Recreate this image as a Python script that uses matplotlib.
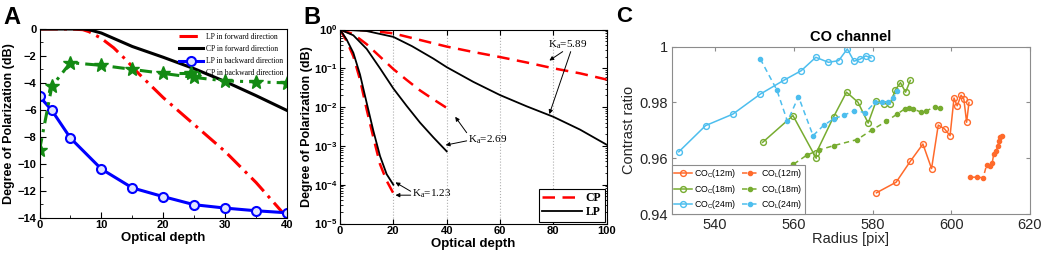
import numpy as np
import matplotlib
matplotlib.use("Agg")
import matplotlib.pyplot as plt
from matplotlib.ticker import MultipleLocator, LogLocator, NullFormatter

# ---------------- Panel A data ----------------
a_lpf_x = [0, 5, 7, 8, 10, 12, 14, 16, 20, 25, 30, 35, 40]
a_lpf_y = [0, 0, -0.05, -0.2, -0.7, -1.4, -2.3, -3.3, -5.1, -7.1, -9.1, -11.4, -14.0]
a_cpf_x = [0, 5, 7, 8, 10, 12, 15, 20, 25, 30, 35, 40]
a_cpf_y = [0, 0, 0, -0.05, -0.3, -0.7, -1.3, -2.1, -2.95, -3.9, -4.95, -6.05]
a_back_x = [0, 2, 5, 10, 15, 20, 25, 30, 35, 40]
a_lpb_y = [-5.0, -6.05, -8.1, -10.4, -11.8, -12.45, -13.05, -13.3, -13.5, -13.65]
a_cpb_y = [-9.0, -4.25, -2.5, -2.7, -3.0, -3.3, -3.6, -3.85, -3.93, -4.0]
a_labels = ["LP in forward direction", "CP in forward direction",
            "LP in backward direction", "CP in backward direction"]

# ---------------- Panel B data (log10 of DOP) ----------------
b_x123 = [0, 2.5, 5, 7.5, 10, 12.5, 15, 17.5, 20]
b_lp123 = [0, -0.26, -0.6, -1.16, -1.89, -2.61, -3.26, -3.73, -4.0]
b_cp123 = [0, -0.3, -0.69, -1.29, -2.06, -2.78, -3.47, -3.9, -4.22]
b_x269 = [0, 5, 10, 15, 20, 25, 30, 35, 40]
b_lp269 = [0, -0.15, -0.5, -1.0, -1.52, -1.97, -2.4, -2.78, -3.14]
b_cp269 = [0, -0.12, -0.38, -0.7, -1.02, -1.3, -1.57, -1.8, -2.02]
b_x589lp = [0, 10, 20, 27, 35, 40, 50, 60, 70, 80, 90, 100]
b_lp589 = [0, -0.04, -0.19, -0.43, -0.75, -0.97, -1.35, -1.69, -1.98, -2.25, -2.58, -2.97]
b_x589cp = [0, 10, 20, 30, 40, 50, 60, 70, 80, 90, 100]
b_cp589 = [0, -0.02, -0.1, -0.27, -0.44, -0.58, -0.71, -0.85, -1.0, -1.13, -1.29]

# ---------------- Panel C data ----------------
c24_x = [530.8, 537.6, 544.5, 551.5, 557.4, 561.9, 565.6, 568.8, 571.4, 573.6, 575.3, 576.8, 578.3, 579.6]
c24_y = [0.9623, 0.9717, 0.9758, 0.983, 0.9879, 0.9914, 0.9962, 0.9944, 0.995, 0.9992, 0.9948, 0.9955, 0.9967, 0.996]
l24_x = [551.5, 555.7, 558.4, 561.2, 564.9, 567.6, 570.1, 572.8, 575.4, 578.2, 580.6, 582.3, 584.0, 585.2, 586.2]
l24_y = [0.9956, 0.9845, 0.9732, 0.9821, 0.9681, 0.9718, 0.9741, 0.9755, 0.977, 0.9764, 0.980, 0.980, 0.9803, 0.9815, 0.9842]
c18_x = [552.1, 559.8, 565.7, 565.7, 570.1, 573.4, 576.3, 578.9, 580.9, 582.8, 584.4, 585.8, 587.1, 588.4, 589.6]
c18_y = [0.9657, 0.9753, 0.960, 0.9619, 0.9748, 0.9837, 0.9801, 0.9726, 0.9804, 0.9796, 0.9794, 0.9845, 0.9871, 0.9837, 0.9879]
l18_x = [555.0, 559.9, 563.3, 566.5, 570.1, 576.1, 579.9, 583.5, 586.2, 588.2, 589.3, 590.3, 592.2, 593.7, 595.8, 597.1]
l18_y = [0.951, 0.9578, 0.9611, 0.963, 0.9645, 0.9667, 0.9702, 0.9732, 0.9758, 0.9777, 0.9779, 0.9777, 0.9766, 0.977, 0.9784, 0.9779]
c12_x = [581.0, 586.0, 589.6, 592.8, 595.0, 596.7, 598.3, 599.7, 600.7, 601.5, 602.5, 603.2, 603.9, 604.5]
c12_y = [0.9476, 0.9514, 0.9589, 0.9651, 0.9563, 0.9719, 0.9705, 0.9681, 0.9816, 0.9788, 0.9826, 0.9812, 0.9729, 0.980]
l12_x = [604.7, 606.6, 608.1, 609.0, 609.8, 610.4, 610.8, 611.4, 611.8, 612.1, 612.5, 612.9]
l12_y = [0.9532, 0.9532, 0.953, 0.9577, 0.9571, 0.9583, 0.9616, 0.9625, 0.9643, 0.9661, 0.9676, 0.9679]

W, H = 1045, 254
fig = plt.figure(figsize=(W / 100, H / 100), dpi=100)

def box(l, r, t, b):
    return [l / W, 1 - b / H, (r - l) / W, (b - t) / H]

SANS = "Liberation Sans"
SERIF = "Liberation Serif"

# ================= Panel A =================
axA = fig.add_axes(box(39.5, 287, 29, 217.5))
axA.plot(a_lpf_x, a_lpf_y, color="#ff0000", lw=2.2, dashes=(6, 2, 1, 2), label=a_labels[0])
axA.plot(a_cpf_x, a_cpf_y, color="black", lw=2.2, label=a_labels[1])
axA.plot(a_back_x, a_lpb_y, color="#0000ff", lw=2.2, marker="o", ms=6.5, mfc="#dfe3ff",
         mec="#0000ff", mew=1.5, label=a_labels[2])
axA.plot(a_back_x, a_cpb_y, color="#138a13", lw=2.2, dashes=(4, 2, 1, 2), marker="*", ms=10,
         mfc="#138a13", mec="#138a13", label=a_labels[3])
axA.set_xlim(0, 40)
axA.set_ylim(-14, 0)
axA.set_xticks([0, 10, 20, 30, 40])
axA.set_yticks(np.arange(-14, 1, 2))
axA.xaxis.set_minor_locator(MultipleLocator(5))
axA.yaxis.set_minor_locator(MultipleLocator(1))
axA.tick_params(which="both", direction="in", labelsize=8, pad=2)
axA.tick_params(which="major", length=4)
axA.tick_params(which="minor", length=2.5)
for lab in axA.get_xticklabels() + axA.get_yticklabels():
    lab.set_fontweight("bold"); lab.set_fontfamily(SANS)
axA.set_xlabel("Optical depth", fontsize=9.5, fontweight="bold", family=SANS, labelpad=1)
axA.set_ylabel("Degree of Polarization (dB)", fontsize=9, fontweight="bold", family=SANS, labelpad=2)
legA = axA.legend(loc="upper right", frameon=False, prop={"family": SERIF, "size": 5.5},
                  handlelength=3.2, borderaxespad=0.1, labelspacing=0.55, handletextpad=0.3)
fig.text(3 / W, 1 - 24 / H, "A", fontsize=17, fontweight="bold", family=SANS)

# ================= Panel B =================
axB = fig.add_axes(box(340, 606.7, 29.5, 223.5))
p = lambda v: 10 ** np.asarray(v)
axB.plot(b_x589cp, p(b_cp589), color="#ff0000", lw=1.8, dashes=(5, 3), label="CP")
axB.plot(b_x589lp, p(b_lp589), color="black", lw=1.3, label="LP")
axB.plot(b_x269, p(b_cp269), color="#ff0000", lw=1.8, dashes=(5, 3))
axB.plot(b_x269, p(b_lp269), color="black", lw=1.3)
axB.plot(b_x123, p(b_cp123), color="#ff0000", lw=1.8, dashes=(5, 3))
axB.plot(b_x123, p(b_lp123), color="black", lw=1.3)
axB.set_yscale("log")
axB.set_xlim(0, 100)
axB.set_ylim(1e-5, 1)
axB.set_xticks([0, 20, 40, 60, 80, 100])
axB.yaxis.set_major_locator(LogLocator(base=10, numticks=10))
axB.yaxis.set_minor_locator(LogLocator(base=10, subs=np.arange(2, 10), numticks=10))
axB.yaxis.set_minor_formatter(NullFormatter())
axB.grid(axis="x", color="#b0b0b0", ls=":", lw=0.8)
axB.tick_params(which="both", direction="in", top=True, right=True, labelsize=8, pad=2)
axB.tick_params(which="major", length=3.5)
axB.tick_params(which="minor", length=1.8)
for lab in axB.get_xticklabels() + axB.get_yticklabels():
    lab.set_fontweight("bold"); lab.set_fontfamily(SANS)
axB.set_xlabel("Optical depth", fontsize=9.5, fontweight="bold", family=SANS, labelpad=1)
axB.set_ylabel("Degree of Polarization (dB)", fontsize=9, fontweight="bold", family=SANS, labelpad=1)
legB = axB.legend(loc="lower right", prop={"family": SERIF, "size": 8.5, "weight": "bold"},
                  handlelength=3.4, borderaxespad=0.15, labelspacing=0.15, fancybox=False,
                  edgecolor="black", framealpha=1, borderpad=0.3, handletextpad=0.3)
legB.get_frame().set_linewidth(0.8)

arw = dict(arrowstyle="-|>", color="black", lw=0.7, mutation_scale=6, shrinkA=0, shrinkB=0)
tk = dict(family=SERIF, fontsize=8)
axB.text(85.5, 10 ** -0.4, r"K$_\mathregular{a}$=5.89", ha="center", va="center", **tk)
axB.annotate("", xy=(78.5, 10 ** -0.8), xytext=(83.5, 10 ** -0.57), arrowprops=arw)
axB.annotate("", xy=(78.5, 10 ** -2.18), xytext=(86.5, 10 ** -0.57), arrowprops=arw)
axB.text(55.3, 10 ** -2.85, r"K$_\mathregular{a}$=2.69", ha="center", va="center", **tk)
axB.annotate("", xy=(43.2, 10 ** -2.25), xytext=(47.5, 10 ** -2.66), arrowprops=arw)
axB.annotate("", xy=(39.6, 10 ** -2.98), xytext=(47.5, 10 ** -2.87), arrowprops=arw)
axB.text(34.5, 10 ** -4.24, r"K$_\mathregular{a}$=1.23", ha="center", va="center", **tk)
axB.annotate("", xy=(20.8, 10 ** -3.94), xytext=(26.5, 10 ** -4.17), arrowprops=arw)
axB.annotate("", xy=(20.8, 10 ** -4.27), xytext=(26.5, 10 ** -4.27), arrowprops=arw)
fig.text(303 / W, 1 - 24 / H, "B", fontsize=17, fontweight="bold", family=SANS)

# ================= Panel C =================
axC = fig.add_axes(box(671.7, 1030, 46.7, 214))
col12, col18, col24 = "#ff6a2b", "#77ac30", "#4dbeee"
mk_c = dict(marker="o", ms=4.2, mfc="none", mew=1.0, lw=1.1)
mk_l = dict(marker=".", ms=6, lw=1.1, dashes=(3.5, 2.5))
lc12, = axC.plot(c12_x, c12_y, color=col12, **mk_c)
ll12, = axC.plot(l12_x, l12_y, color=col12, **mk_l)
lc18, = axC.plot(c18_x, c18_y, color=col18, **mk_c)
ll18, = axC.plot(l18_x, l18_y, color=col18, **mk_l)
lc24, = axC.plot(c24_x, c24_y, color=col24, **mk_c)
ll24, = axC.plot(l24_x, l24_y, color=col24, **mk_l)
axC.set_xlim(529, 620)
axC.set_ylim(0.94, 1.0)
axC.set_xticks([540, 560, 580, 600, 620])
axC.set_yticks([0.94, 0.96, 0.98, 1.0])
axC.set_yticklabels(["0.94", "0.96", "0.98", "1"])
for s in axC.spines.values():
    s.set_color("#8c8c8c"); s.set_linewidth(0.8)
axC.tick_params(direction="in", top=True, right=True, length=3, color="#8c8c8c",
                labelsize=10.5, labelcolor="#262626", pad=3)
for lab in axC.get_xticklabels() + axC.get_yticklabels():
    lab.set_fontfamily(SANS)
axC.set_xlabel("Radius [pix]", fontsize=10.5, family=SANS, color="#262626", labelpad=0)
axC.set_ylabel("Contrast ratio", fontsize=10.5, family=SANS, color="#262626", labelpad=2)
axC.set_title("CO channel", fontsize=10.5, fontweight="bold", family=SANS, pad=4)
handles = [lc12, lc18, lc24, ll12, ll18, ll24]
labels = [r"CO$_\mathregular{C}$(12m)", r"CO$_\mathregular{C}$(18m)", r"CO$_\mathregular{C}$(24m)",
          r"CO$_\mathregular{L}$(12m)", r"CO$_\mathregular{L}$(18m)", r"CO$_\mathregular{L}$(24m)"]
legC = axC.legend(handles, labels, loc="lower left", ncol=2, prop={"family": SANS, "size": 6.3},
                  handlelength=2.0, handletextpad=0.25, columnspacing=0.6, labelspacing=0.3,
                  borderaxespad=0, fancybox=False, edgecolor="#8c8c8c", framealpha=1, borderpad=0.3)
legC.get_frame().set_linewidth(0.8)
fig.text(616 / W, 1 - 22 / H, "C", fontsize=16, fontweight="bold", family=SANS)

fig.savefig("out.png", dpi=100)
